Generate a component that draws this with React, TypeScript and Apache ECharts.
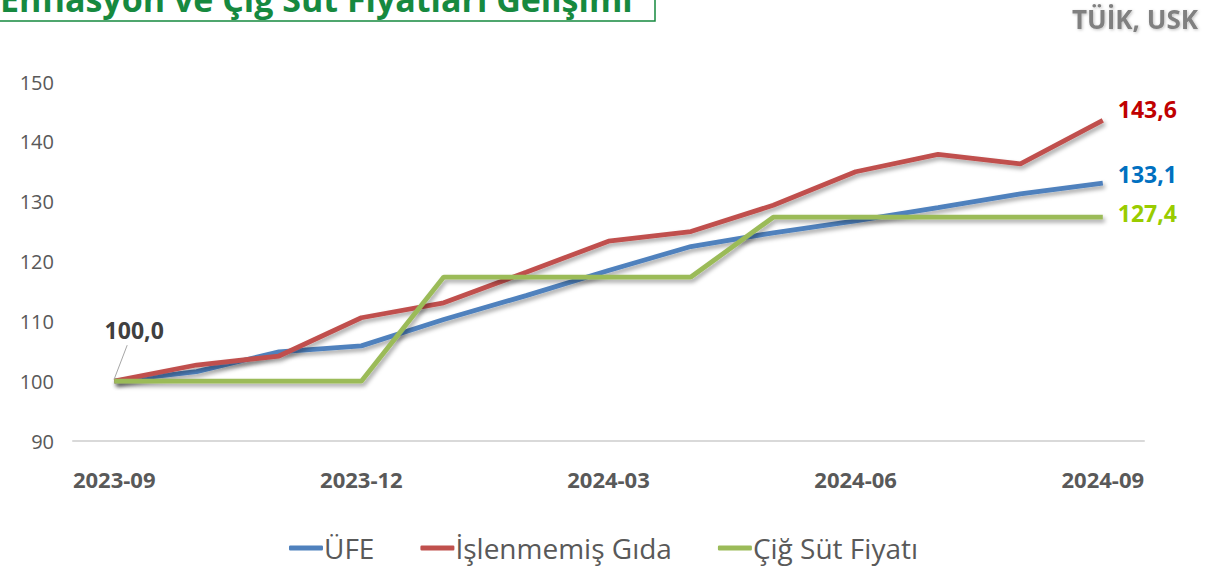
import React, { useEffect, useRef } from "react";
import * as echarts from "echarts";

const months = [
  "2023-09", "2023-10", "2023-11", "2023-12", "2024-01", "2024-02", "2024-03",
  "2024-04", "2024-05", "2024-06", "2024-07", "2024-08", "2024-09",
];
const ufe = [100, 101.6, 104.9, 105.9, 110.3, 114.3, 118.5, 122.5, 124.8, 126.8, 129.0, 131.3, 133.1];
const gida = [100, 102.7, 104.2, 110.6, 113.1, 118.2, 123.4, 125.0, 129.4, 135.0, 137.9, 136.3, 143.6];
const sut = [100, 100, 100, 100, 117.4, 117.4, 117.4, 117.4, 127.4, 127.4, 127.4, 127.4, 127.4];
const seriesNames = ["ÜFE", "İşlenmemiş Gıda", "Çiğ Süt Fiyatı"];
const yTicks = { min: 90, max: 150, interval: 10 };
const titleText = "Enflasyon ve Çiğ Süt Fiyatları Gelişimi";
const sourceText = "TÜİK, USK";

const FONT = "'Open Sans', 'Noto Sans', sans-serif";
const fmt = (v: number) => v.toFixed(1).replace(".", ",");

export default function App() {
  const ref = useRef<HTMLDivElement>(null);
  useEffect(() => {
    document.body.style.margin = "0";
    const chart = echarts.init(ref.current!, null, { renderer: "svg" });
    const shadow = {
      shadowColor: "rgba(0,0,0,0.35)",
      shadowBlur: 4,
      shadowOffsetX: 2,
      shadowOffsetY: 3,
    };
    const mkSeries = (name: string, data: number[], color: string, labelColor: string, dy: number, firstLabel: boolean) => ({
      name,
      type: "line",
      data: data.map((v, i) =>
        i === 0 && firstLabel
          ? {
              value: v,
              symbol: "circle",
              symbolSize: 0,
              label: {
                show: true,
                position: "top",
                offset: [20, -35],
                formatter: () => fmt(v),
                fontFamily: FONT,
                fontWeight: "bold",
                fontSize: 23,
                color: "#404040",
              },
            }
          : v
      ),
      symbol: "none",
      showSymbol: true,
      lineStyle: { color, width: 4.8, ...shadow },
      itemStyle: { color },
      z: firstLabel ? 4 : 3,
      endLabel: {
        show: true,
        formatter: (p: any) => fmt(p.value as number),
        distance: 15,
        offset: [0, dy],
        color: labelColor,
        fontFamily: FONT,
        fontWeight: "bold",
        fontSize: 23,
      },
    });
    const baseGraphics: any[] = [
      {
        type: "rect",
        id: "titlebox",
        shape: { x: -4, y: -40, width: 659, height: 61 },
        style: { fill: "#fff", stroke: "#16893f", lineWidth: 1.5 },
      },
      {
        type: "text",
        id: "title",
        x: 0,
        y: 16,
        style: {
          text: titleText,
          fontFamily: FONT,
          fontWeight: "bold",
          fontSize: 34,
          fill: "#16893f",
          textVerticalAlign: "bottom",
        },
      },
      {
        type: "text",
        id: "source",
        right: 9,
        top: 6,
        style: {
          text: sourceText,
          fontFamily: FONT,
          fontWeight: "bold",
          fontSize: 26,
          fill: "#808080",
          textShadowColor: "rgba(0,0,0,0.25)",
          textShadowBlur: 3,
          textShadowOffsetX: 1,
          textShadowOffsetY: 1,
        },
      },
    ];
    chart.setOption({
      animation: false,
      backgroundColor: "#fff",
      grid: { left: 73, right: 63, top: 82, bottom: 127 },
      xAxis: {
        type: "category",
        data: months,
        boundaryGap: true,
        axisLine: { lineStyle: { color: "#d9d9d9", width: 2 } },
        axisTick: { show: false },
        axisLabel: {
          interval: 2,
          margin: 27,
          color: "#595959",
          fontFamily: FONT,
          fontWeight: "bold",
          fontSize: 22,
        },
      },
      yAxis: {
        type: "value",
        min: yTicks.min,
        max: yTicks.max,
        interval: yTicks.interval,
        axisLine: { show: false },
        axisTick: { show: false },
        splitLine: { show: false },
        axisLabel: { color: "#595959", fontFamily: FONT, fontSize: 20, margin: 19 },
      },
      legend: {
        bottom: 1,
        left: "center",
        icon: "roundRect",
        itemWidth: 34,
        itemHeight: 5,
        itemGap: 46,
        textStyle: { color: "#595959", fontFamily: FONT, fontSize: 28, padding: [0, 0, 0, -4] },
        data: seriesNames,
      },
      series: [
        mkSeries(seriesNames[0], ufe, "#4f81bd", "#0070c0", -9, false),
        mkSeries(seriesNames[1], gida, "#c0504d", "#c00000", -11, false),
        mkSeries(seriesNames[2], sut, "#9bbb59", "#99cc00", -4, true),
      ],
      graphic: baseGraphics,
    });
    const p0 = chart.convertToPixel({ gridIndex: 0 }, [0, sut[0]]) as number[];
    chart.setOption({
      graphic: [
        ...baseGraphics,
        {
          type: "line",
          id: "leader",
          shape: { x1: p0[0], y1: p0[1] - 2, x2: p0[0] + 13, y2: p0[1] - 36 },
          style: { stroke: "#a6a6a6", lineWidth: 1 },
          z: 10,
        },
      ],
    });
    return () => chart.dispose();
  }, []);
  return <div ref={ref} style={{ width: 1207, height: 568 }} />;
}
